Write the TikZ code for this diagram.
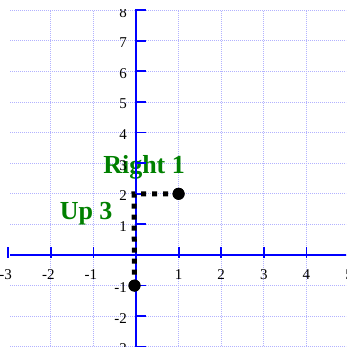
\documentclass[tikz,border=0pt]{standalone}
\usepackage{fontspec}
\setmainfont{Liberation Serif}
\usetikzlibrary{positioning}
\tikzset{
  gridline/.style={draw=blue!30, line width=0.8pt, dash pattern=on 1pt off 1pt},
  axisline/.style={draw=blue, line width=2.6pt},
  tickmark/.style={draw=blue, line width=1.8pt},
  ticklabel/.style={font=\fontsize{15}{15}\selectfont, inner sep=0pt},
  movelabel/.style={text=green!50!black, font=\fontsize{26}{26}\selectfont\bfseries, inner sep=0pt},
  dotpath/.style={line width=5pt, dash pattern=on 5pt off 6pt},
  ptdot/.style={circle, fill=black, minimum size=12pt, inner sep=0pt}
}
\begin{document}
\begin{tikzpicture}[x=42.6pt,y=30.6pt]
		\useasboundingbox (-136pt,-92pt) rectangle (210pt,255pt);
		\clip (-136pt,-92pt) rectangle (210pt,245.5pt);
		% grid
		\foreach \i in {-2,...,4} \draw[gridline] (\i,-3.1) -- (\i,8);
		\foreach \j in {-3,...,8} \draw[gridline] (-2.95,\j) -- (5.2,\j);
		
		\node[movelabel] (rightlab) at (0.19,2.85) {Right 1};
		\node[movelabel] (uplab) at (-1.17,1.34) {Up 3};
		
		% axes
		\draw[axisline] (-2.95,0) -- (5.2,0);
		\draw[axisline] (0,-3.1) -- (0,8);
		\foreach \i in {-3,-2,-1,1,2,3,4,5}{
			\pgfmathtruncatemacro\a{abs(\i)}
			\draw[tickmark] ([yshift=-3pt]\i,0) -- ([yshift=8pt]\i,0);
			\node[ticklabel, anchor=north] (xlab\a) at ([yshift=-14pt]\i,0) {\ifnum\i<0 \llap{-}\fi\a};
		}
		\foreach \j in {-3,-2,-1,1,2,3,4,5,6,7,8}{
			\draw[tickmark] ([xshift=-1pt]0,\j) -- ([xshift=10pt]0,\j);
			\node[ticklabel, anchor=east] (ylab\j) at ([xshift=-9pt,yshift=-2pt]0,\j) {\ifnum\j<0 -\fi\pgfmathparse{int(abs(\j))}\pgfmathresult};
		}
		
		% the move
		\node[ptdot] (start) at ([xshift=-1.5pt]0,-1) {};
		\node[ptdot] (finish) at (1,2) {};
		\coordinate (corner) at ([xshift=-2pt]0,2);
		\draw[dotpath] (start.center) -- (corner) -- (finish.center);
		\node[ptdot] at (start) {};
		\node[ptdot] at (finish) {};
		
	\end{tikzpicture}
\end{document}
